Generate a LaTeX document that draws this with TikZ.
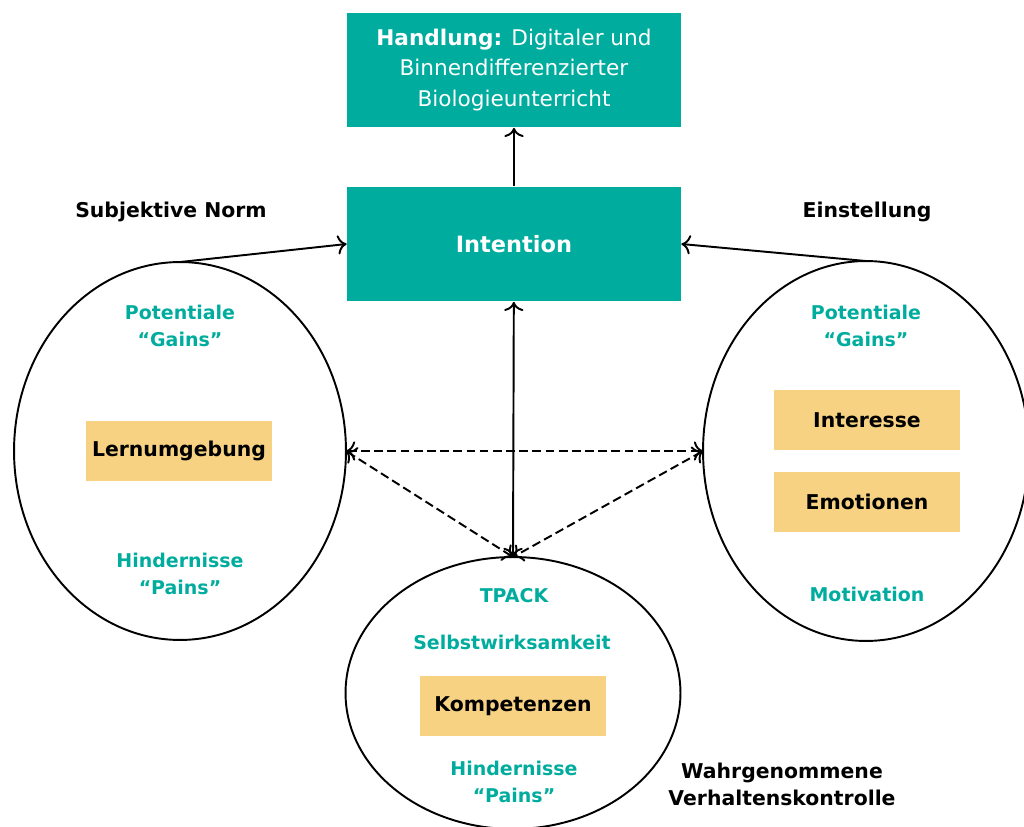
\documentclass[tikz,border=0pt]{standalone}
\usepackage{fontspec}
\setmainfont{DejaVu Sans}
\usetikzlibrary{shapes.geometric,arrows.meta}
\definecolor{tuerkis}{RGB}{0,172,158}
\definecolor{sand}{RGB}{246,210,130}

\tikzset{
  kasten/.style={fill=tuerkis, text=white, minimum width=6.68cm, minimum height=2.3cm, align=center},
  faktor/.style={fill=sand, minimum width=3.72cm, minimum height=1.22cm},
  hinweis/.style={text=tuerkis, align=center, font=\fontsize{10.8}{15.4}\selectfont\bfseries},
  oval/.style={draw, ellipse, line width=1.1pt, inner sep=0pt, outer sep=0pt},
}

\begin{document}
\begin{tikzpicture}[x=0.02cm,y=-0.02cm,font=\fontsize{11.6}{15.4}\selectfont\bfseries]
\useasboundingbox (0,0) rectangle (1024,827);

\node[kasten, font=\fontsize{12.3}{17.6}\selectfont] (handlung) at (514,70) {\textbf{Handlung:} Digitaler und\\Binnendifferenzierter\\Biologieunterricht};
\node[kasten, font=\fontsize{12.8}{15.4}\selectfont\bfseries] (intention) at (514,244) {Intention};

\node[oval, minimum width=6.64cm, minimum height=7.56cm] (links) at (180,451) {};
\node[oval, minimum width=6.52cm, minimum height=7.6cm] (rechts) at (866,451) {};
\node[oval, minimum width=6.7cm, minimum height=5.44cm] (unten) at (513,693) {};

\node (norm) at (171,212) {Subjektive Norm};
\node (einstellung) at (867,212) {Einstellung};
\node[align=center] (kontrolle) at (782,784) {Wahrgenommene\\Verhaltenskontrolle};

\node[hinweis] (gains1) at (180,326) {Potentiale\\“Gains”};
\node[faktor] (lernumgebung) at (179,451) {Lernumgebung};
\node[hinweis] (pains1) at (180,574) {Hindernisse\\“Pains”};

\node[hinweis] (gains2) at (866,326) {Potentiale\\“Gains”};
\node[faktor] (interesse) at (867,420) {Interesse};
\node[faktor] (emotionen) at (867,502) {Emotionen};
\node[hinweis] (motivation) at (867,594) {Motivation};

\node[hinweis] (tpack) at (514,596) {TPACK};
\node[hinweis] (selbst) at (512,642) {Selbstwirksamkeit};
\node[faktor] (kompetenzen) at (513,706) {Kompetenzen};
\node[hinweis] (pains2) at (514,782) {Hindernisse\\“Pains”};

\path[draw,line width=1.1pt,->,>={To[scale=1.3]}] (intention) -- (handlung);
\path[draw,line width=1.1pt,->,>={To[scale=1.3]}] (links.north) -- (intention.west);
\path[draw,line width=1.1pt,->,>={To[scale=1.3]}] (rechts.north) -- (intention.east);
\path[draw,line width=1.1pt,<->,>={To[scale=1.3]}] (intention) -- (unten.north);
\path[draw,line width=1.1pt,dash pattern=on 5pt off 2.5pt,<->,>={To[scale=1.3]}] (links.east) -- (rechts.west);
\path[draw,line width=1.1pt,dash pattern=on 5pt off 2.5pt,<->,>={To[scale=1.3]}] (links.east) -- (unten.north);
\path[draw,line width=1.1pt,dash pattern=on 5pt off 2.5pt,<->,>={To[scale=1.3]}] (rechts.west) -- (unten.north);
\end{tikzpicture}
\end{document}
